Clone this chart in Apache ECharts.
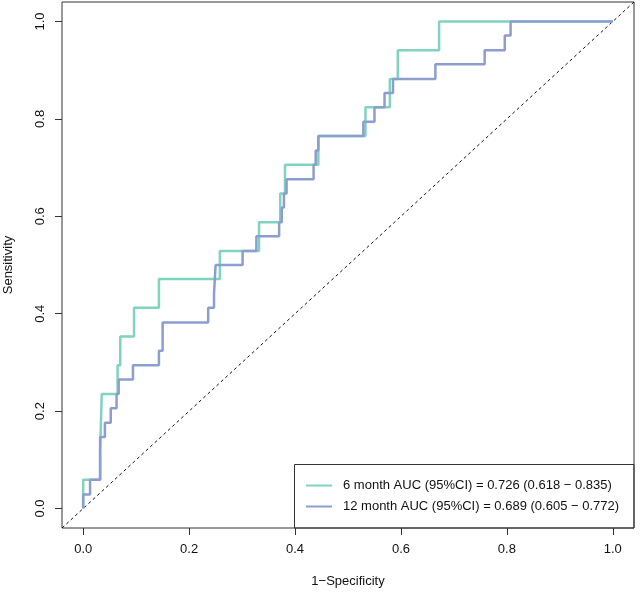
<!DOCTYPE html>
<html>
<head>
<meta charset="utf-8">
<script src="https://cdn.jsdelivr.net/npm/echarts@6/dist/echarts.min.js"></script>
<style>html,body{margin:0;padding:0;background:#fff;}#chart{width:640px;height:596px;}</style>
</head>
<body>
<div id="chart"></div>
<script>
// ---- data ----
var seriesNames = [
  '6 month AUC (95%CI) = 0.726 (0.618 \u2212 0.835)',
  '12 month AUC (95%CI) = 0.689 (0.605 \u2212 0.772)'
];
var tickValues = [0, 0.2, 0.4, 0.6, 0.8, 1.0];
var axisRange = [-0.04, 1.04];
var diagX = [-0.04, 1.04];
var diagY = [-0.04, 1.04];

var fpr6 = [0,0,0.032,0.032,0.035,0.035,0.065,0.065,0.07,0.07,0.096,0.096,0.143,0.143,0.258,0.258,0.332,0.332,0.372,0.372,0.381,0.381,0.444,0.444,0.533,0.533,0.579,0.579,0.594,0.594,0.672,0.672,1];
var tpr6 = [0,0.059,0.059,0.118,0.118,0.235,0.235,0.294,0.294,0.353,0.353,0.412,0.412,0.471,0.471,0.529,0.529,0.588,0.588,0.647,0.647,0.706,0.706,0.765,0.765,0.824,0.824,0.882,0.882,0.941,0.941,1,1];

var fpr12 = [0,0,0.013,0.013,0.032,0.032,0.041,0.041,0.052,0.052,0.063,0.063,0.067,0.067,0.094,0.094,0.143,0.143,0.15,0.15,0.236,0.236,0.247,0.247,0.25,0.25,0.301,0.301,0.327,0.327,0.37,0.37,0.375,0.375,0.379,0.379,0.384,0.384,0.435,0.435,0.439,0.439,0.444,0.444,0.529,0.529,0.55,0.55,0.569,0.569,0.585,0.585,0.665,0.665,0.758,0.758,0.796,0.796,0.807,0.807,1];
var tpr12 = [0,0.029,0.029,0.059,0.059,0.147,0.147,0.176,0.176,0.206,0.206,0.235,0.235,0.265,0.265,0.294,0.294,0.324,0.324,0.382,0.382,0.412,0.412,0.441,0.441,0.5,0.5,0.529,0.529,0.559,0.559,0.588,0.588,0.618,0.618,0.647,0.647,0.676,0.676,0.706,0.706,0.735,0.735,0.765,0.765,0.794,0.794,0.824,0.824,0.853,0.853,0.882,0.882,0.912,0.912,0.941,0.941,0.971,0.971,1,1];

function zip(a, b) { return a.map(function (v, i) { return [v, b[i]]; }); }

var FONT = '"Liberation Sans", Arial, Helvetica, sans-serif';
var chart = echarts.init(document.getElementById('chart'), null, {renderer: 'canvas'});

function axisCommon(isY) {
  return {
    type: 'value',
    min: axisRange[0],
    max: axisRange[1],
    splitLine: {show: false},
    axisLine: {show: false, onZero: false},
    axisTick: {show: true, inside: false, length: 7, customValues: tickValues, lineStyle: {color: '#333', width: 1}},
    axisLabel: {
      show: true, customValues: tickValues, fontSize: 13, fontFamily: FONT, color: '#111',
      margin: isY ? 15 : 15, rotate: isY ? 90 : 0,
      formatter: function (v) { return v.toFixed(1); }
    },
    nameLocation: 'middle',
    nameTextStyle: {fontSize: 13, fontFamily: FONT, color: '#111'}
  };
}

var xA = axisCommon(false);
xA.name = '1\u2212Specificity';
xA.nameGap = 47;
var yA = axisCommon(true);
yA.name = 'Sensitivity';
yA.nameGap = 47;

var colors = ['#80D3BF', '#8C9ED0'];

chart.setOption({
  animation: false,
  backgroundColor: '#fff',
  grid: {left: 62, top: 2, width: 572, height: 526, show: true, borderColor: '#333', borderWidth: 1,
         backgroundColor: 'transparent', containLabel: false, outerBoundsMode: 'none'},
  xAxis: xA,
  yAxis: yA,
  legend: {
    orient: 'vertical',
    left: 306, top: 478,
    itemWidth: 26, itemHeight: 2, itemGap: 6,
    icon: 'rect',
    padding: 0,
    textStyle: {fontSize: 13, fontFamily: FONT, color: '#111', lineHeight: 15, padding: [0, 0, 0, 6]},
    data: seriesNames
  },
  graphic: [{
    type: 'rect', z: 100, silent: true,
    shape: {x: 294.5, y: 464.5, width: 339.5, height: 63.5},
    style: {fill: 'none', stroke: '#333', lineWidth: 1}
  }],
  series: [
    {
      type: 'line', name: 'diag', data: zip(diagX, diagY), showSymbol: false, silent: true,
      lineStyle: {color: '#111', width: 1, type: [3, 3]}, z: 1
    },
    {
      type: 'line', name: seriesNames[0], data: zip(fpr6, tpr6), showSymbol: false,
      color: colors[0], lineStyle: {color: colors[0], width: 2.5}, z: 2
    },
    {
      type: 'line', name: seriesNames[1], data: zip(fpr12, tpr12), showSymbol: false,
      color: colors[1], lineStyle: {color: colors[1], width: 2.5}, z: 3
    }
  ]
});
</script>
</body>
</html>
